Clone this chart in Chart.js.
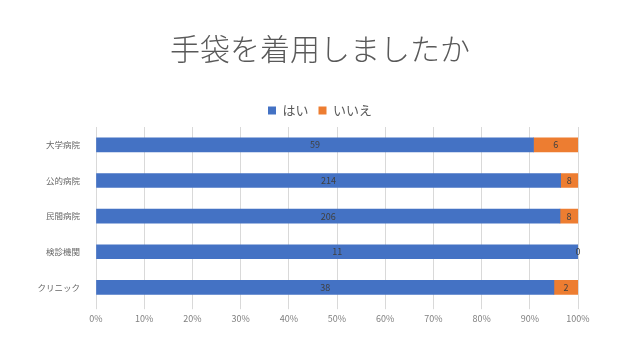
<!DOCTYPE html>
<html>
<head>
<meta charset="utf-8">
<script src="https://cdn.jsdelivr.net/npm/chart.js@4/dist/chart.umd.min.js"></script>
<style>
  html, body { margin: 0; padding: 0; background: #fff; }
  canvas { display: block; }
</style>
</head>
<body>
<canvas id="gloveChart" width="640" height="360"></canvas>
<script>
// 施設ごとの回答数
const categories = ['大学病院', '公的病院', '民間病院', '検診機関', 'クリニック'];
const yesCounts = [59, 214, 206, 11, 38];
const noCounts = [6, 8, 8, 0, 2];
const xTicks = [0, 10, 20, 30, 40, 50, 60, 70, 80, 90, 100];

// 100%積み上げ用に割合へ
const totals = yesCounts.map((v, i) => v + noCounts[i]);
const yesPct = yesCounts.map((v, i) => v / totals[i] * 100);
const noPct = noCounts.map((v, i) => v / totals[i] * 100);

const JP = '"Noto Sans CJK JP", "Noto Sans", sans-serif';

// バーの中央に実数を描く
const countLabels = {
    id: 'countLabels',
    afterDatasetsDraw(chart) {
        const ctx = chart.ctx;
        ctx.save();
        ctx.font = '9px ' + JP;
        ctx.fillStyle = '#404040';
        ctx.textAlign = 'center';
        ctx.textBaseline = 'middle';
        chart.data.datasets.forEach((ds, di) => {
            const meta = chart.getDatasetMeta(di);
            meta.data.forEach((bar, i) => {
                const cx = (bar.x + bar.base) / 2;
                ctx.fillText(String(ds.counts[i]), cx, bar.y);
            });
        });
        ctx.restore();
    }
};

new Chart(document.getElementById('gloveChart'), {
    type: 'bar',
    data: {
        labels: categories,
        datasets: [
            { label: 'はい', data: yesPct, counts: yesCounts, backgroundColor: '#4472c4', barThickness: 14 },
            { label: 'いいえ', data: noPct, counts: noCounts, backgroundColor: '#ed7d31', barThickness: 14 }
        ]
    },
    options: {
        indexAxis: 'y',
        responsive: false,
        animation: false,
        layout: { padding: { left: 0, right: 0, top: 0, bottom: 32 } },
        scales: {
            x: {
                stacked: true,
                min: 0,
                max: 100,
                afterBuildTicks: (scale) => { scale.ticks = xTicks.map(v => ({ value: v })); },
                ticks: {
                    callback: (v) => v + '%',
                    color: '#808080',
                    font: { size: 9, family: JP },
                    padding: 4
                },
                grid: { color: '#d9d9d9', tickLength: 4 },
                border: { display: false }
            },
            y: {
                stacked: true,
                afterFit: (scale) => { scale.width = 96; },
                ticks: {
                    color: '#666666',
                    font: { size: 8.5, family: JP },
                    padding: 8
                },
                grid: { display: false },
                border: { display: false }
            },
            // 右側の余白用（見えない軸）
            yPad: {
                position: 'right',
                afterFit: (scale) => { scale.width = 62; },
                ticks: { display: false },
                grid: { display: false },
                border: { display: false }
            }
        },
        plugins: {
            title: {
                display: true,
                text: '手袋を着用しましたか',
                color: '#595959',
                font: { size: 30, family: JP, weight: '200' },
                padding: { top: 31, bottom: 27 }
            },
            legend: {
                position: 'top',
                labels: {
                    color: '#595959',
                    boxWidth: 8,
                    boxHeight: 8,
                    font: { size: 13, family: JP }
                }
            },
            tooltip: { enabled: false }
        }
    },
    plugins: [countLabels]
});
</script>
</body>
</html>
